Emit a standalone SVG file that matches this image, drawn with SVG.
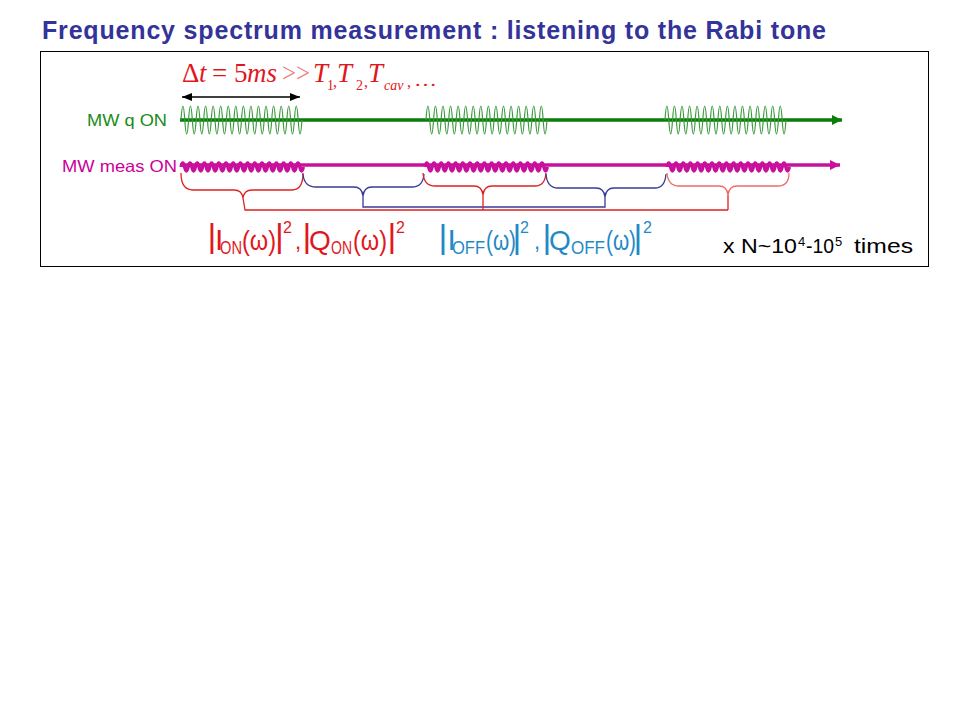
<svg xmlns="http://www.w3.org/2000/svg" width="960" height="720" viewBox="0 0 960 720">
<style>
.sans{font-family:"Liberation Sans",Arial,sans-serif}
.serif{font-family:"Liberation Serif","Times New Roman",serif}
.red{fill:#e0181e}
.blue{fill:#1f8ac6}
.brR{fill:none;stroke:#dd2222;stroke-width:1.3}
.brR2{fill:none;stroke:#f06a6a;stroke-width:1.3}
.brB{fill:none;stroke:#3a3a96;stroke-width:1.3}
</style>
<defs>
<marker id="ahBlack" viewBox="0 0 10 8" refX="10" refY="4" markerWidth="10" markerHeight="8" markerUnits="userSpaceOnUse" orient="auto-start-reverse">
<path d="M0,0 L10,4 L0,8 z" fill="#000"/>
</marker>
<marker id="ahGreen" viewBox="0 0 10 10" refX="10" refY="5" markerWidth="10" markerHeight="10" markerUnits="userSpaceOnUse" orient="auto">
<path d="M0,0 L10,5 L0,10 z" fill="#0a7d0a"/>
</marker>
<marker id="ahMag" viewBox="0 0 10 10" refX="10" refY="5" markerWidth="10" markerHeight="10" markerUnits="userSpaceOnUse" orient="auto">
<path d="M0,0 L10,5 L0,10 z" fill="#c8109c"/>
</marker>
<path id="gBurst" fill="none" stroke="#3a9a3a" stroke-width="1.2" d="M0,0 q1.89,-28 3.78,0 t3.78,0 t3.78,0 t3.78,0 t3.78,0 t3.78,0 t3.78,0 t3.78,0 t3.78,0 t3.78,0 t3.78,0 t3.78,0 t3.78,0 t3.78,0 t3.78,0 t3.78,0 t3.78,0 t3.78,0 t3.78,0 t3.78,0 t3.78,0 t3.78,0 t3.78,0 t3.78,0 t3.78,0 t3.78,0 t3.78,0 t3.78,0 t3.78,0 t3.78,0 t3.78,0 t3.78,0"/>
<path id="mBurst" fill="none" stroke="#c8109c" stroke-width="3.4" d="M0,0 q1.8,-8 3.6,0 t3.6,0 t3.6,0 t3.6,0 t3.6,0 t3.6,0 t3.6,0 t3.6,0 t3.6,0 t3.6,0 t3.6,0 t3.6,0 t3.6,0 t3.6,0 t3.6,0 t3.6,0 t3.6,0 t3.6,0 t3.6,0 t3.6,0 t3.6,0 t3.6,0 t3.6,0 t3.6,0 t3.6,0 t3.6,0 t3.6,0 t3.6,0 t3.6,0 t3.6,0 t3.6,0 t3.6,0 t3.6,0 t3.6,0"/>
</defs>
<rect width="960" height="720" fill="#fff"/>

<g id="title">
<text class="sans" x="42" y="39" font-size="25" font-weight="bold" fill="#333399" textLength="784" lengthAdjust="spacing">Frequency spectrum measurement : listening to the Rabi tone</text>
</g>

<g id="frame">
<rect x="40.5" y="51.5" width="888" height="215" fill="none" stroke="#000" stroke-width="1"/>
</g>

<g id="delta-t">
<line x1="182" y1="97" x2="300" y2="97" stroke="#000" stroke-width="1.5" marker-start="url(#ahBlack)" marker-end="url(#ahBlack)"/>
<text class="serif red" y="82" font-size="27" font-style="italic"><tspan x="182" font-style="normal">Δ</tspan><tspan x="199">t</tspan><tspan x="212" font-style="normal">=</tspan><tspan x="234" font-style="normal">5</tspan><tspan x="247">ms</tspan><tspan x="313">T</tspan><tspan x="337">T</tspan><tspan x="368">T</tspan></text>
<text class="serif" x="282" y="82" font-size="27" fill="#f08080" textLength="28" lengthAdjust="spacingAndGlyphs">&gt;&gt;</text>
<text class="serif red" y="90" font-size="14"><tspan x="327">1</tspan><tspan x="356">2</tspan><tspan x="384" font-style="italic">cav</tspan></text>
<text class="serif red" y="87" font-size="16"><tspan x="333">,</tspan><tspan x="364">,</tspan><tspan x="407">,</tspan></text>
<text class="serif red" x="414" y="86" font-size="18" textLength="23" lengthAdjust="spacingAndGlyphs">…</text>
</g>

<g id="mw-q">
<text class="sans" x="87" y="126" font-size="16.5" fill="#1a8c1a" textLength="80" lengthAdjust="spacingAndGlyphs">MW q ON</text>
<line x1="180" y1="120" x2="842" y2="120" stroke="#0a7d0a" stroke-width="3.5" marker-end="url(#ahGreen)"/>
<use href="#gBurst" x="181" y="120"/>
<use href="#gBurst" x="426" y="120"/>
<use href="#gBurst" x="665" y="120"/>
</g>

<g id="mw-meas">
<text class="sans" x="62" y="172" font-size="16.5" fill="#cc0099" textLength="115" lengthAdjust="spacingAndGlyphs">MW meas ON</text>
<line x1="180" y1="165" x2="840" y2="165" stroke="#c8109c" stroke-width="3.4" marker-end="url(#ahMag)"/>
<use href="#mBurst" x="181" y="167"/>
<use href="#mBurst" x="425" y="167"/>
<use href="#mBurst" x="667" y="167"/>
</g>

<g id="connectors">
<path class="brR" d="M181,173 Q181,190 193,190 L234,190 Q242,190 243,198 Q244,190 252,190 L292,190 Q303,190 303,173"/>
<path class="brR" d="M243,198 L245,210 L728,210"/>
<path class="brB" d="M303,174 Q304,187 316,187 L354,187 Q362,187 363,196 Q364,187 372,187 L412,187 Q423,187 424,174"/>
<path class="brB" d="M363,196 L363,207 L605,207 L605,197"/>
<path class="brR" d="M423,173 Q424,186 435,186 L474,186 Q482,186 483,195 Q484,186 492,186 L535,186 Q545,186 546,173"/>
<path class="brR" d="M483,195 L483,210"/>
<path class="brB" d="M546,174 Q547,188 558,188 L596,188 Q604,188 605,197 Q606,188 614,188 L655,188 Q665,188 666,174"/>
<path class="brR2" d="M667,173 Q668,186 679,186 L719,186 Q727,186 728,195 Q729,186 737,186 L778,186 Q789,186 789,173"/>
<path class="brR" d="M728,195 L728,210"/>
</g>

<g id="formula-on" class="sans red">
<text x="207.5" y="247" font-size="34">|</text>
<text x="215" y="250" font-size="30">I</text>
<text x="220" y="253.5" font-size="19" textLength="22" lengthAdjust="spacingAndGlyphs">ON</text>
<text x="242" y="250" font-size="27" textLength="34" lengthAdjust="spacingAndGlyphs">(ω)</text>
<text x="275" y="247" font-size="34">|</text>
<text x="283" y="233" font-size="16">2</text>
<text x="295" y="249" font-size="22">,</text>
<text x="302.5" y="247" font-size="34">|</text>
<text x="309" y="250" font-size="28">Q</text>
<text x="331" y="253.5" font-size="19" textLength="21" lengthAdjust="spacingAndGlyphs">ON</text>
<text x="353" y="250" font-size="27" textLength="34" lengthAdjust="spacingAndGlyphs">(ω)</text>
<text x="387.5" y="247" font-size="34">|</text>
<text x="396" y="233" font-size="16">2</text>
</g>

<g id="formula-off" class="sans blue">
<text x="438.5" y="248" font-size="34">|</text>
<text x="447.5" y="250" font-size="30">I</text>
<text x="452" y="253.5" font-size="19" textLength="33" lengthAdjust="spacingAndGlyphs">OFF</text>
<text x="486" y="250" font-size="27" textLength="30" lengthAdjust="spacingAndGlyphs">(ω)</text>
<text x="512.5" y="248" font-size="34">|</text>
<text x="520" y="233" font-size="16">2</text>
<text x="534" y="249" font-size="22">,</text>
<text x="542.5" y="248" font-size="34">|</text>
<text x="549" y="250" font-size="28">Q</text>
<text x="571" y="253.5" font-size="19" textLength="34" lengthAdjust="spacingAndGlyphs">OFF</text>
<text x="606" y="250" font-size="27" textLength="30" lengthAdjust="spacingAndGlyphs">(ω)</text>
<text x="633.5" y="248" font-size="34">|</text>
<text x="643" y="233" font-size="16">2</text>
</g>

<g id="repeat-label" class="sans" fill="#000">
<text x="723" y="253" font-size="21" textLength="74" lengthAdjust="spacingAndGlyphs">x N~10</text>
<text x="798" y="246" font-size="13">4</text>
<text x="806" y="253" font-size="21" textLength="28" lengthAdjust="spacingAndGlyphs">-10</text>
<text x="835" y="246" font-size="13">5</text>
<text x="854" y="253" font-size="21" textLength="59" lengthAdjust="spacingAndGlyphs">times</text>
</g>
</svg>
